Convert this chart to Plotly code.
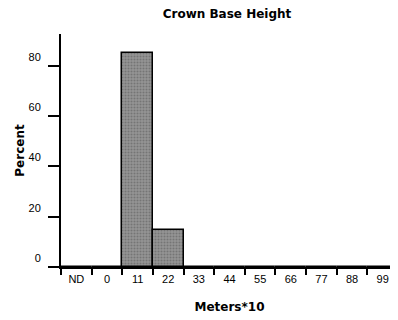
import plotly.graph_objects as go

categories = ["ND", "0", "11", "22", "33", "44", "55", "66", "77", "88", "99"]
percent = [0, 0, 85.3, 14.7, 0, 0, 0, 0, 0, 0, 0]
y_ticks = [0, 20, 40, 60, 80]

fig = go.Figure()
fig.add_trace(go.Bar(
    x=categories, y=percent,
    marker=dict(color="#858585",
                line=dict(color="black", width=1.5),
                pattern=dict(shape=".", fgcolor="#555555", bgcolor="#959595", size=3, solidity=0.4)),
    width=1.0,
))

tick_font = "Liberation Sans, Arial, sans-serif"
title_font = "DejaVu Sans, sans-serif"
# page body has an 8px default margin, so the figure is 8px smaller than the window
fig.update_layout(
    width=390, height=312,
    margin=dict(l=53, r=0, t=26, b=53, autoexpand=False),
    paper_bgcolor="white", plot_bgcolor="white",
    bargap=0, showlegend=False,
    font=dict(family=tick_font, size=11, color="black"),
    title=dict(text="<b>Crown Base Height</b>", x=0.5615, xanchor="center", y=0.982, yanchor="middle",
               font=dict(size=12, family=title_font, color="black")),
)
fig.update_xaxes(
    type="category", range=[-0.5, 10.5], automargin=False,
    showline=True, linecolor="black", linewidth=2,
    ticks="outside", tickson="boundaries", ticklen=6, tickwidth=1.5, tickcolor="black",
    showgrid=False, zeroline=False, ticklabelstandoff=1,
    title=dict(text="<b>Meters*10</b>", font=dict(size=12, family=title_font), standoff=18),
    tickfont=dict(size=11, family=tick_font),
)
fig.update_yaxes(
    range=[0, 92.7], tickvals=y_ticks, automargin=False,
    showline=True, linecolor="black", linewidth=2,
    ticks="outside", ticklen=11, tickwidth=1.5, tickcolor="black",
    showgrid=False, zeroline=False,
    ticklabelshift=-9, ticklabelstandoff=5,
    title=dict(text="<b>Percent</b>", font=dict(size=12, family=title_font), standoff=1),
    tickfont=dict(size=11, family=tick_font),
)
fig.write_html("out.html")
